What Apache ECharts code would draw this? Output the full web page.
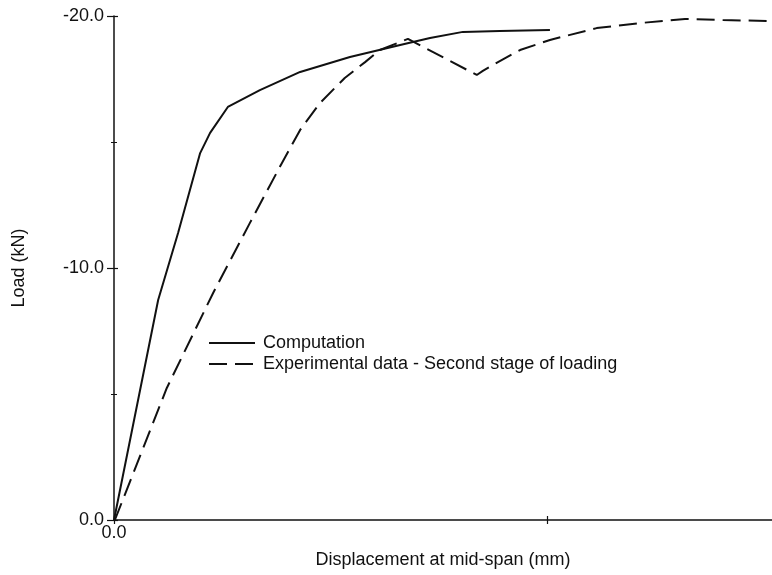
<!DOCTYPE html>
<html>
<head>
<meta charset="utf-8">
<style>
  html, body { margin: 0; padding: 0; background: #fff; }
  #chart { width: 772px; height: 575px; }
</style>
<script src="https://cdn.jsdelivr.net/npm/echarts@6/dist/echarts.min.js"></script>
</head>
<body>
<div id="chart"></div>
<script>
// displacement (mm) and load (kN)
const compX = [0, 1.02, 1.48, 1.99, 2.22, 2.63, 3.37, 4.30, 5.45, 6.61, 7.30, 8.06, 8.91, 10.07];
const compY = [0, -8.73, -11.39, -14.56, -15.36, -16.39, -17.06, -17.78, -18.37, -18.85, -19.13, -19.37, -19.40, -19.44];

const expX = [0.02, 1.22, 2.29, 3.14, 3.88, 4.30, 4.76, 5.33, 5.80, 6.14, 6.79, 8.38, 8.52, 8.87, 9.38, 10.07, 11.15, 12.15, 13.19, 14.06, 15.20];
const expY = [0, -5.24, -9.01, -11.79, -14.17, -15.48, -16.55, -17.54, -18.17, -18.65, -19.09, -17.66, -17.82, -18.17, -18.65, -19.05, -19.52, -19.72, -19.88, -19.84, -19.80];

const xTicks = [0, 10];
const xTickLabels = ['0.0'];
const yTickLabels = { '-20': '-20.0', '-10': '-10.0', '0': '0.0' };
const seriesNames = ['Computation', 'Experimental data - Second stage of loading'];

const pair = (xs, ys) => xs.map((x, i) => [x, ys[i]]);
const font = 'Liberation Sans, Arial, sans-serif';
const ink = '#111';
const fs = 18;

const chart = echarts.init(document.getElementById('chart'), null, { renderer: 'canvas' });

// base y axis, the second copy only draws the inner half of the ticks
function yAxis(inside) {
  return {
    type: 'value',
    min: -20,
    max: 0,
    interval: 10,
    inverse: true,
    position: 'left',
    name: inside ? '' : 'Load (kN)',
    nameLocation: 'middle',
    nameGap: 86,
    nameTextStyle: { fontFamily: font, fontSize: fs, color: ink },
    axisLine: { show: !inside, lineStyle: { color: ink, width: 1.5 } },
    axisTick: { show: true, inside: inside, length: inside ? 4 : 7, lineStyle: { color: ink, width: 1.2 } },
    minorTick: { show: true, splitNumber: 2, length: 3, lineStyle: { color: ink, width: 1 } },
    axisLabel: {
      show: !inside,
      fontFamily: font, fontSize: fs, color: ink, margin: 10,
      formatter: v => yTickLabels[String(v)] || ''
    },
    splitLine: { show: false }
  };
}

function xAxis(inside) {
  return {
    type: 'value',
    min: 0,
    max: 15.2,
    position: 'bottom',
    name: inside ? '' : 'Displacement at mid-span (mm)',
    nameLocation: 'middle',
    nameGap: 31,
    nameTextStyle: { fontFamily: font, fontSize: fs, color: ink },
    axisLine: { show: !inside, lineStyle: { color: ink, width: 1.5 } },
    axisTick: { show: true, inside: inside, length: 4, customValues: xTicks, lineStyle: { color: ink, width: 1.2 } },
    axisLabel: {
      show: !inside,
      fontFamily: font, fontSize: fs, color: ink, margin: 4,
      customValues: [0],
      formatter: () => xTickLabels[0]
    },
    splitLine: { show: false }
  };
}

chart.setOption({
  animation: false,
  backgroundColor: '#fff',
  textStyle: { fontFamily: font, color: ink },
  grid: { left: 114, right: 0, top: 16, bottom: 55 },
  legend: {
    orient: 'vertical',
    left: 203,
    top: 329,
    itemWidth: 46,
    itemHeight: 14,
    itemGap: 3,
    itemStyle: { opacity: 0 },
    textStyle: { fontFamily: font, fontSize: fs, color: ink, padding: [0, 0, 0, 3] },
    data: seriesNames
  },
  xAxis: [xAxis(false), xAxis(true)],
  yAxis: [yAxis(false), yAxis(true)],
  series: [
    {
      name: seriesNames[0],
      type: 'line',
      symbol: 'none',
      color: ink,
      data: pair(compX, compY),
      lineStyle: { color: ink, width: 2 }
    },
    {
      name: seriesNames[1],
      type: 'line',
      symbol: 'none',
      color: ink,
      data: pair(expX, expY),
      lineStyle: { color: ink, width: 2, type: [18, 8] }
    }
  ]
});
</script>
</body>
</html>
